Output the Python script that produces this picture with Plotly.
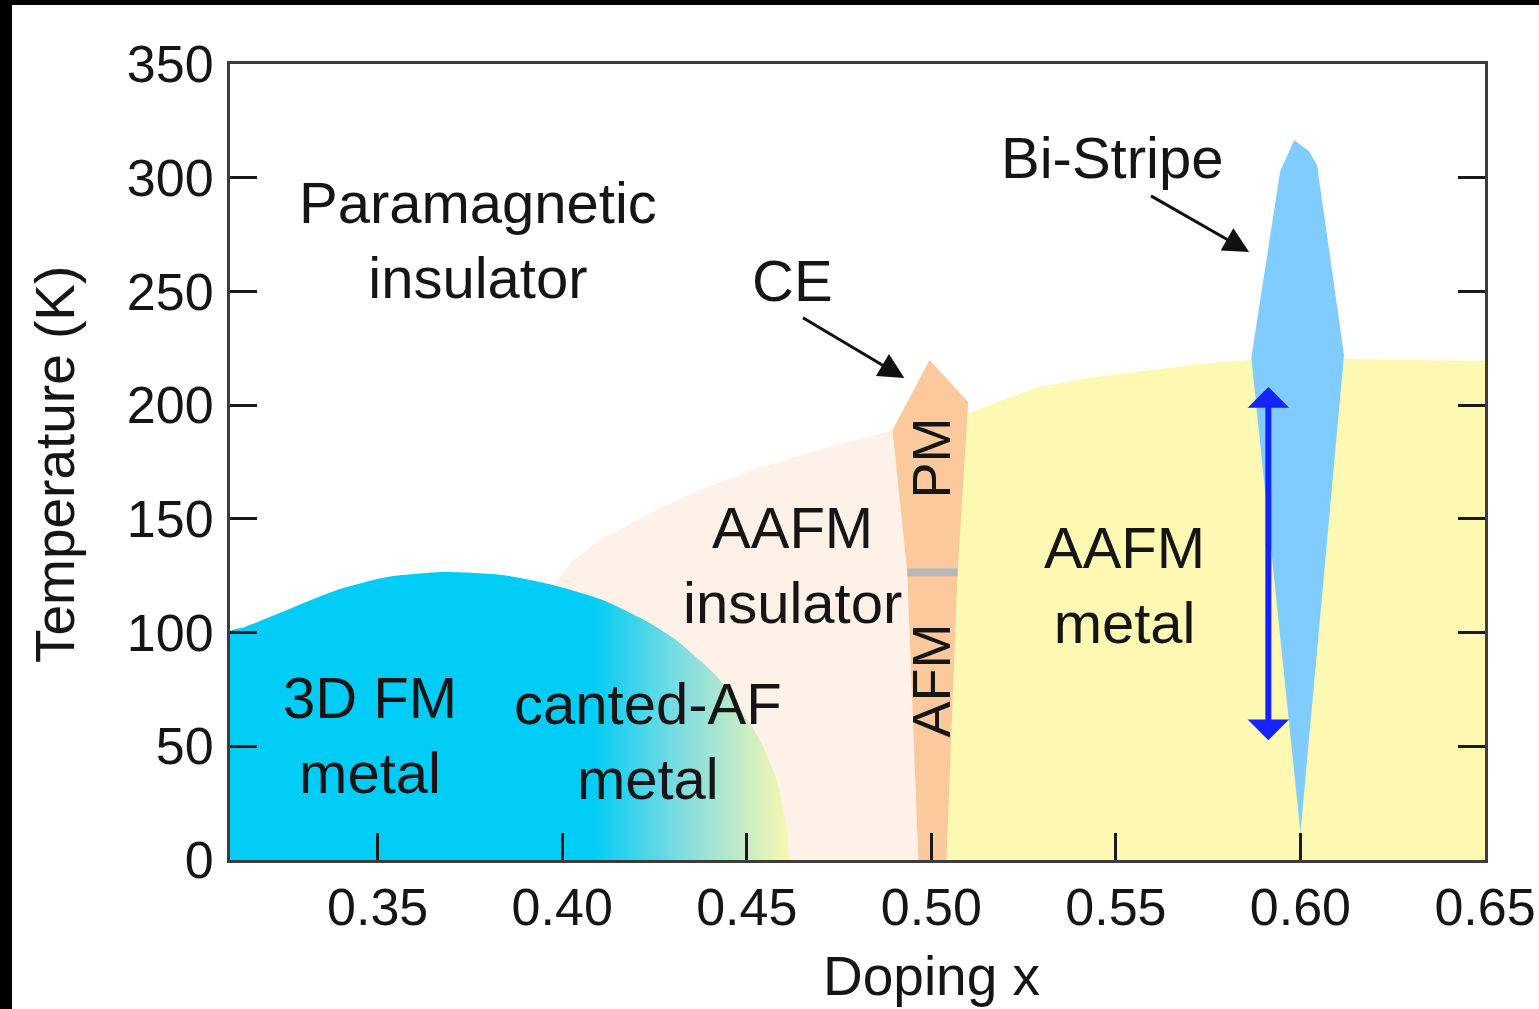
import plotly.graph_objects as go

# ---- data (doping x, temperature K) ----
fm_x = [0.31, 0.31, 0.3141, 0.3254, 0.3390, 0.3525, 0.3677, 0.3839, 0.3974, 0.4110, 0.4237, 0.4310, 0.4372, 0.4420, 0.4462, 0.4535, 0.4581, 0.4608, 0.4616]
fm_t = [0, 100.3, 102.5, 109.9, 118.7, 124.4, 126.6, 125.3, 120.9, 114.3, 104.2, 96.5, 87.9, 80.5, 71.7, 52.8, 35.2, 14.5, 0]

ains_x = [0.397, 0.3993, 0.4024, 0.4102, 0.4237, 0.4372, 0.4507, 0.4643, 0.4778, 0.4895, 0.4960, 0.4990, 0.397]
ains_t = [119, 124, 131, 140.7, 152.5, 162.6, 171, 178, 184, 189, 186, 0, 0]

amet_x = [0.500, 0.5095, 0.5190, 0.5282, 0.5423, 0.5720, 0.5867, 0.6124, 0.65, 0.65]
amet_t = [0, 196, 202, 207.5, 211.9, 218, 220, 220.3, 219.4, 0]

ce_x = [0.4965, 0.4935, 0.4895, 0.4995, 0.510, 0.5071, 0.5041]
ce_t = [0, 126.2, 189.1, 219.8, 201.4, 126.2, 0]

bi_x = [0.6000, 0.5867, 0.5945, 0.5983, 0.6024, 0.6045, 0.6118]
bi_t = [12, 220.8, 302.7, 316.6, 311.5, 305.6, 222.1]

bar_x = [0.4935, 0.5071]
bar_t = [126.5, 126.5]

arrow_x = 0.5913
arrow_t = [208, 52]

xticks = [0.35, 0.40, 0.45, 0.50, 0.55, 0.60, 0.65]
xticklabels = ["0.35", "0.40", "0.45", "0.50", "0.55", "0.60", "0.65"]
yticks = [0, 50, 100, 150, 200, 250, 300, 350]

labels = [
    ("Paramagnetic<br>insulator", 0.3771, 272.6),
    ("CE", 0.4624, 255),
    ("Bi-Stripe", 0.5490, 308.7),
    ("AAFM<br>insulator", 0.4624, 129.7),
    ("AAFM<br>metal", 0.5523, 120.9),
    ("3D FM<br>metal", 0.3479, 55),
    ("canted-AF<br>metal", 0.4232, 52.3),
]

FONT = "Liberation Sans, Arial, Helvetica, sans-serif"
TXT = "#151515"

fig = go.Figure()

def poly(x, y, color, shape="linear"):
    fig.add_trace(go.Scatter(x=x, y=y, mode="lines", fill="toself", fillcolor=color,
                             line=dict(width=0, shape=shape), hoverinfo="skip", showlegend=False))

poly(ains_x, ains_t, "#fdf1e8")
poly(amet_x, amet_t, "#fdf9b2")
fig.add_trace(go.Scatter(
    x=fm_x, y=fm_t, mode="lines", fill="toself", line=dict(width=0, shape="spline", smoothing=0.6),
    fillgradient=dict(type="horizontal", start=0.408, stop=0.462,
                      colorscale=[[0, "#00ccf5"], [0.45, "#80dce0"], [1, "#fcf8b0"]]),
    hoverinfo="skip", showlegend=False))
poly(ce_x, ce_t, "#fcc99c")
poly(bi_x, bi_t, "#80ccff")
fig.add_trace(go.Scatter(x=bar_x, y=bar_t, mode="lines", line=dict(color="#b8b8b8", width=8),
                         hoverinfo="skip", showlegend=False))

for txt, x, y in labels:
    fig.add_annotation(x=x, y=y, text=txt, showarrow=False,
                       font=dict(family=FONT, size=58, color=TXT))

fig.add_annotation(x=0.5, y=176.7, text="PM", textangle=-90, showarrow=False,
                   font=dict(family=FONT, size=54, color=TXT))
fig.add_annotation(x=0.5, y=79.1, text="AFM", textangle=-90, showarrow=False,
                   font=dict(family=FONT, size=54, color=TXT))

# pointer arrows
fig.add_annotation(x=0.4927, y=211.9, ax=0.4648, ay=238.8, axref="x", ayref="y",
                   text="", showarrow=True, arrowhead=2, arrowsize=1.7, arrowwidth=3,
                   arrowcolor="#111111", standoff=0, startstandoff=0)
fig.add_annotation(x=0.5861, y=267.3, ax=0.5591, ay=292.4, axref="x", ayref="y",
                   text="", showarrow=True, arrowhead=2, arrowsize=1.7, arrowwidth=3,
                   arrowcolor="#111111", standoff=0, startstandoff=0)
# blue double arrow
fig.add_annotation(x=arrow_x, y=arrow_t[0], ax=arrow_x, ay=arrow_t[1], axref="x", ayref="y",
                   text="", showarrow=True, arrowhead=1, startarrowhead=1, arrowside="end+start",
                   arrowsize=1.15, startarrowsize=1.15, arrowwidth=6, arrowcolor="#1424ff",
                   standoff=0, startstandoff=0)

# axis titles
fig.add_annotation(xref="paper", yref="paper", x=(931 - 230) / 1255, y=(860 - 976) / 796,
                   xanchor="center", yanchor="middle",
                   text="Doping x", showarrow=False, font=dict(family=FONT, size=55, color=TXT))
fig.add_annotation(xref="paper", yref="paper", x=(55 - 230) / 1255, y=(860 - 465) / 796,
                   xanchor="center", yanchor="middle",
                   text="Temperature (K)", textangle=-90, showarrow=False,
                   font=dict(family=FONT, size=55, color=TXT))

# black frame strips of the picture
fig.add_shape(type="rect", xref="paper", yref="paper", x0=(0 - 230) / 1255, x1=(12 - 230) / 1255,
              y0=(860 - 1015) / 796, y1=(860 + 5) / 796, fillcolor="black", line=dict(width=0), layer="above")
fig.add_shape(type="rect", xref="paper", yref="paper", x0=(0 - 230) / 1255, x1=(1545 - 230) / 1255,
              y0=(860 - 5) / 796, y1=(860 + 5) / 796, fillcolor="black", line=dict(width=0), layer="above")

axis_common = dict(showgrid=False, zeroline=False, showline=True, linecolor="#3c3c3c", linewidth=3,
                   ticks="inside", ticklen=27, tickwidth=3, tickcolor="#1a1a1a", automargin=False,
                   tickfont=dict(family=FONT, size=52, color=TXT))

fig.update_xaxes(range=[0.31, 0.65], tickvals=xticks, ticktext=xticklabels, mirror=True,
                 ticklabelstandoff=0, **axis_common)
fig.update_yaxes(range=[0, 350], tickvals=yticks, mirror="ticks", ticklabelstandoff=3, **axis_common)

fig.update_layout(width=1539, height=1009, margin=dict(l=230, r=54, t=64, b=149, autoexpand=False),
                  paper_bgcolor="white", plot_bgcolor="white", showlegend=False)

fig.write_html("out.html", config={"displayModeBar": False},
               post_script="document.body.style.margin='0px';")
